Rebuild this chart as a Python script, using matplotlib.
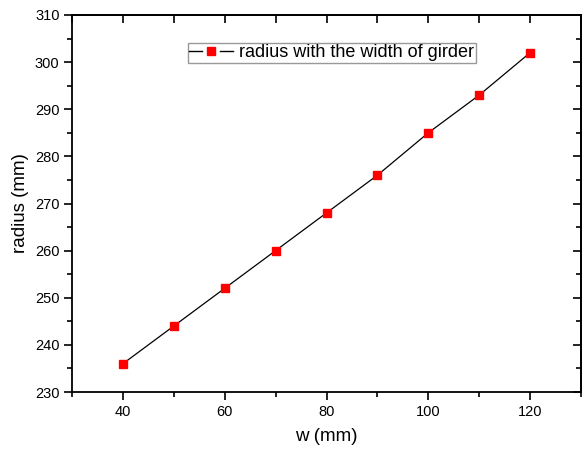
import matplotlib
matplotlib.use("Agg")
import matplotlib.pyplot as plt
from matplotlib.ticker import MultipleLocator
from matplotlib.lines import Line2D
from matplotlib.legend_handler import HandlerBase

plt.rcParams['font.family'] = ['Liberation Sans', 'DejaVu Sans']

w = [40, 50, 60, 70, 80, 90, 100, 110, 120]
radius = [236, 244, 252, 260, 268, 276, 285, 293, 302]
label = "radius with the width of girder"


class OriginHandler(HandlerBase):
    def create_artists(self, legend, orig_handle, xdescent, ydescent,
                       width, height, fontsize, trans):
        y = height / 2 - ydescent
        x0 = -xdescent
        seg = 0.3 * width
        l1 = Line2D([x0, x0 + seg], [y, y], color='black', lw=1.0)
        l2 = Line2D([x0 + width - seg, x0 + width], [y, y], color='black', lw=1.0)
        m = Line2D([x0 + width / 2], [y], ls='none', marker='s', markersize=6.3,
                   markerfacecolor='#ff0000', markeredgecolor='#ff0000')
        for a in (l1, l2, m):
            a.set_transform(trans)
        return [l1, l2, m]


fig = plt.figure(figsize=(5.82, 4.51), dpi=100)
ax = fig.add_axes([72/582, 1-392/451, (581-72)/582, (392-15)/451])

line, = ax.plot(w, radius, color='black', lw=0.9, marker='s', markersize=6.3,
                markerfacecolor='#ff0000', markeredgecolor='#ff0000')

ax.set_xlim(30, 130)
ax.set_ylim(230, 310)
ax.xaxis.set_major_locator(MultipleLocator(20))
ax.xaxis.set_minor_locator(MultipleLocator(10))
ax.yaxis.set_major_locator(MultipleLocator(10))
ax.yaxis.set_minor_locator(MultipleLocator(5))
ax.tick_params(which='major', direction='out', length=6, width=1.2, labelsize=10.5, pad=3)
ax.tick_params(which='minor', direction='out', length=3.5, width=1.2)

for s in ax.spines.values():
    s.set_linewidth(1.3)

secx = ax.secondary_xaxis('top')
secx.xaxis.set_major_locator(MultipleLocator(20))
secx.xaxis.set_minor_locator(MultipleLocator(10))
secx.tick_params(which='major', direction='in', length=6, width=1.2, labeltop=False)
secx.tick_params(which='minor', direction='in', length=6, width=1.2)
secx.spines['top'].set_linewidth(1.3)

secy = ax.secondary_yaxis('right')
secy.yaxis.set_major_locator(MultipleLocator(10))
secy.yaxis.set_minor_locator(MultipleLocator(5))
secy.tick_params(which='major', direction='in', length=6, width=1.2, labelright=False)
secy.tick_params(which='minor', direction='in', length=3.5, width=1.2)
secy.spines['right'].set_linewidth(1.3)

ax.set_xlabel("w (mm)", fontsize=13.5, labelpad=7)
ax.set_ylabel("radius (mm)", fontsize=13.5, labelpad=4)

leg = ax.legend([line], [label], loc='upper left',
                bbox_to_anchor=(0.228, 0.926), borderaxespad=0,
                fontsize=13, fancybox=False, edgecolor='#999999', framealpha=1,
                handlelength=2.4, handletextpad=0.35, borderpad=0.08,
                handler_map={line: OriginHandler()})
leg.get_frame().set_linewidth(1.0)

fig.savefig("out.png", dpi=100)
